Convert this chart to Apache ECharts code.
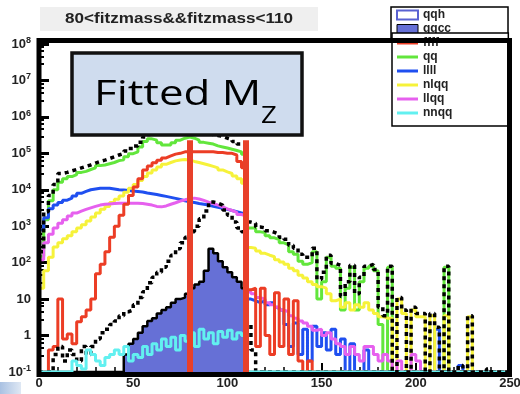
<!DOCTYPE html>
<html>
<head>
<meta charset="utf-8">
<script src="https://cdn.jsdelivr.net/npm/echarts@6/dist/echarts.min.js"></script>
<style>
  html, body { margin: 0; padding: 0; background: #fff; }
  #chart { width: 520px; height: 394px; }
</style>
</head>
<body>
<div id="chart"></div>
<script>
// histograms, bins of 2.5 from 0 to 250 (0 = empty bin)
const binWidth = 2.5;
const FLOOR = 0.1;
const cutLow = 80;
const cutHigh = 110;
const cutTop = 2.3e5;

const qq = [
  150, 1500, 5000, 1e4, 1.6e4, 2e4, 2.3e4, 2.6e4, 3e4, 3.2e4,
  3.6e4, 4e4, 4.6e4, 4.8e4, 5.2e4, 5.6e4, 6.3e4, 6.7e4, 8e4, 9.8e4,
  1.1e5, 1.5e5, 2.1e5, 2.5e5, 2.3e5, 1.95e5, 1.7e5, 1.7e5, 1.95e5, 2.3e5,
  2.6e5, 2.8e5, 2.6e5, 2.3e5, 2e5, 1.9e5, 1.8e5, 1.6e5, 1.5e5, 1.4e5,
  1.3e5, 1.2e5, 1.1e5, 9.5e4, 900, 900, 700, 670, 550, 480,
  430, 350, 310, 200, 170, 110, 90, 100, 200, 10,
  30, 140, 80, 70, 5, 20, 75, 5, 30, 70,
  80, 60, 2, 0, 75, 0, 0, 0, 0, 0,
  0, 0, 0, 0, 0, 0, 75, 0, 0, 0,
  0, 0, 0, 0, 0, 0, 0, 0, 0, 0
];
const nlqq = [
  20, 60, 140, 270, 350, 450, 550, 700, 900, 1100,
  1400, 1800, 2300, 2900, 3500, 4500, 5500, 6800, 8500, 1.1e4,
  1.4e4, 1.8e4, 2.3e4, 2.9e4, 3.5e4, 4.2e4, 5e4, 5.6e4, 6.2e4, 6.6e4,
  6.8e4, 6.5e4, 6e4, 5.6e4, 5.2e4, 4.8e4, 4.4e4, 4e4, 3.5e4, 3.1e4,
  2.8e4, 2.4e4, 2e4, 1.5e4, 260, 250, 210, 180, 160, 145,
  120, 105, 90, 70, 60, 45, 38, 30, 25, 22,
  20, 14, 9, 10, 6, 8, 5, 7, 6, 8,
  5, 4, 3.3, 3, 3, 0, 10, 4, 0, 5,
  3.3, 3.3, 0, 3.5, 0, 0, 3.5, 0, 0, 0,
  0, 3.3, 0, 0, 0, 0, 0, 0, 0, 0
];
const ffff = [
  0, 0, 0.4, 0.5, 10, 0.8, 1.1, 0.6, 2.4, 3.3,
  5, 10, 50, 90, 200, 500, 1000, 2000, 4000, 7000,
  1.2e4, 2e4, 3.5e4, 4.5e4, 5.5e4, 6.5e4, 7.5e4, 8.5e4, 9.5e4, 1e5,
  1.1e5, 1.1e5, 1.1e5, 1.1e5, 1.1e5, 1.1e5, 1.1e5, 1.05e5, 1.05e5, 1e5,
  1e5, 9e4, 6e4, 4e4, 18, 20, 0.5, 20, 1, 0.3,
  15, 0.5, 10, 0.3, 9, 0.2, 0, 0.2, 0, 0,
  0, 0, 0, 0, 0, 0, 0, 0, 0, 0,
  0, 0, 0, 0, 0, 0, 0, 0, 0, 0,
  0, 0, 0, 0, 0, 0, 0, 0, 0, 0,
  0, 0, 0, 0, 0, 0, 0, 0, 0, 0
];
const llll = [
  800, 1700, 3000, 3800, 4500, 5200, 5900, 6800, 8000, 9000,
  1e4, 1.05e4, 1.1e4, 1.1e4, 1.1e4, 1.05e4, 1e4, 9800, 9500, 9200,
  9000, 8700, 8200, 7800, 7400, 7000, 6600, 6200, 5800, 5400,
  5000, 4700, 4500, 4200, 4000, 3800, 3500, 3300, 3100, 2900,
  2700, 2500, 2300, 2100, 10, 9, 8, 9, 7, 8,
  6, 5, 2, 0.5, 2.2, 0.3, 1.5, 0.2, 1.8, 0.5,
  1.2, 0.4, 1.5, 0.3, 0.8, 0, 0.6, 0, 0, 0.4,
  0, 0, 0, 0, 0, 0, 0, 0, 0, 0,
  0, 0, 0, 0, 1.5, 0, 0, 0, 0, 0.15,
  0, 0, 0, 0, 0, 0, 0, 0, 0, 0
];
const llqq = [
  120, 350, 600, 900, 1200, 1500, 1900, 2300, 2600, 2900,
  3200, 3500, 3800, 4000, 4100, 4200, 4300, 4300, 4300, 4300,
  4300, 4200, 4000, 3800, 3500, 3400, 3600, 4000, 4400, 4900,
  5300, 5700, 5900, 5600, 5100, 4600, 4200, 3800, 3400, 3000,
  2700, 2400, 2100, 1900, 16, 14, 11, 10, 8, 7,
  6, 5, 4.5, 3.5, 3, 2.5, 2.2, 1.8, 1.4, 1.5,
  1, 1.2, 0.8, 0.6, 0.5, 0.3, 0.5, 0.3, 0.2, 0.5,
  0.5, 0.3, 0.2, 0.3, 0.2, 0, 0.2, 0, 0, 0.3,
  0.2, 0, 0, 0, 0, 0, 0, 0, 0, 0,
  0, 0, 0, 0, 0, 0, 0, 0, 0, 0
];
const nnqq = [
  0, 0, 0, 0, 0, 0, 0, 0.2, 0.15, 0.12,
  0.4, 0.3, 0.2, 0.15, 0.25, 0.3, 0.4, 0.3, 0.5, 0.2,
  0.3, 0.25, 0.5, 0.3, 0.6, 0.4, 0.8, 0.5, 0.9, 0.4,
  1.0, 0.7, 1.2, 0.5, 1.5, 0.8, 1.2, 0.6, 1.3, 0.9,
  1.4, 0.8, 1.2, 1.0, 0, 0, 0, 0, 0, 0,
  0, 0, 0, 0, 0, 0, 0, 0, 0, 0,
  0, 0, 0, 0, 0, 0, 0, 0, 0, 0,
  0, 0, 0, 0, 0, 0, 0, 0, 0, 0,
  0, 0, 0, 0, 0, 0, 0, 0, 0, 0,
  0, 0, 0, 0, 0, 0, 0, 0, 0, 0
];
const qqh = [
  0, 0, 0, 0.3, 0.5, 0.2, 0.4, 0.3, 0.2, 0.5,
  0.3, 0.5, 0.8, 1.2, 1.5, 2, 2.5, 3.5, 4.5, 5,
  7, 11, 16, 28, 40, 55, 75, 110, 160, 240,
  350, 500, 700, 1000, 1600, 2600, 4600, 4300, 3800, 2800,
  2000, 1300, 900, 700, 2, 0.4, 0, 0, 0, 0,
  0, 0, 0, 0, 0, 0, 0, 0, 0, 0,
  0, 0, 0, 0, 0, 0, 0, 0, 0, 0,
  0, 0, 0, 0, 0, 0, 0, 0, 0, 0,
  0, 0, 0, 0, 0, 0, 0, 0, 0, 0,
  0, 0, 0, 0, 0, 0, 0, 0, 0, 0
];
const qqcc = [
  0, 0, 0, 0, 0, 0, 0, 0, 0, 0,
  0, 0, 0, 0, 0, 0, 0, 0, 0.3, 0.6,
  0.8, 1.2, 1.8, 2.5, 3, 4, 5, 6, 8, 10,
  11, 14, 20, 25, 30, 60, 240, 180, 110, 75,
  55, 40, 30, 20, 0, 0, 0, 0, 0, 0,
  0, 0, 0, 0, 0, 0, 0, 0, 0, 0,
  0, 0, 0, 0, 0, 0, 0, 0, 0, 0,
  0, 0, 0, 0, 0, 0, 0, 0, 0, 0,
  0, 0, 0, 0, 0, 0, 0, 0, 0, 0,
  0, 0, 0, 0, 0, 0, 0, 0, 0, 0
];
// sum of everything, drawn dotted black (not in the legend)
const total = [
  200, 2500, 7000, 1.4e4, 2.8e4, 3e4, 3.3e4, 3.6e4, 4e4, 4.4e4,
  4.8e4, 5.4e4, 6e4, 6.5e4, 7.2e4, 8e4, 9e4, 1e5, 1.15e5, 1.35e5,
  1.6e5, 2e5, 2.8e5, 3.3e5, 3.5e5, 3.5e5, 3.4e5, 3.5e5, 3.8e5, 4.1e5,
  4.4e5, 4.5e5, 4.3e5, 4e5, 3.7e5, 3.5e5, 3.3e5, 3.1e5, 2.9e5, 2.6e5,
  2.4e5, 2.1e5, 1.8e5, 1.6e5, 1300, 1200, 950, 900, 750, 680,
  600, 500, 440, 300, 250, 170, 140, 140, 250, 35,
  55, 160, 95, 85, 12, 30, 85, 14, 40, 80,
  90, 65, 6, 3.5, 80, 0, 11, 5, 0, 6,
  4, 4, 0, 4, 1.7, 0, 80, 0, 0, 0.15,
  0, 3.5, 0, 0, 0, 0.12, 0, 0, 0, 0
];

const upperLegend = ["qqh", "qqcc"];
const lowerLegend = ["ffff", "qq", "llll", "nlqq", "llqq", "nnqq"];

const FONT = "Liberation Sans";
const colors = {
  qq: "#62e63c",
  llll: "#1f4ff0",
  nlqq: "#f6f23a",
  llqq: "#e660ee",
  nnqq: "#62f0f0",
  ffff: "#ec3d25",
  qqcc: "#6670d6",
  cut: "#e8402a"
};

const binEdges = Array.from({ length: 101 }, (_, i) => i * binWidth);

function toSteps(values) {
  const pts = values.map((v, i) => [binEdges[i], v > 0 ? v : FLOOR]);
  pts.push([binEdges[values.length], pts[pts.length - 1][1]]);
  return pts;
}

function hist(name, values, color, lineStyle, extra) {
  return Object.assign({
    name: name,
    type: "line",
    step: "end",
    data: toSteps(values),
    color: color,
    showSymbol: false,
    symbol: "none",
    silent: true,
    lineStyle: Object.assign({ color: color, width: 3, cap: "butt" }, lineStyle || {}),
    emphasis: { disabled: true }
  }, extra || {});
}

const chart = echarts.init(document.getElementById("chart"));

const legendText = {
  fontFamily: FONT, fontSize: 12, fontWeight: "bold", color: "#222", lineHeight: 14
};

chart.setOption({
  animation: false,
  backgroundColor: "#fff",
  grid: { left: 39, right: 10, top: 44, bottom: 22, outerBoundsMode: "none" },
  xAxis: {
    type: "value", min: 0, max: 250, interval: 50,
    axisLine: { show: false },
    axisTick: { inside: true, length: 9, lineStyle: { color: "#000", width: 2 } },
    minorTick: { show: true, splitNumber: 5, length: 5, lineStyle: { color: "#000", width: 1.5 } },
    splitLine: { show: false },
    axisLabel: { fontFamily: FONT, fontSize: 13, fontWeight: "bold", color: "#222", margin: 5 }
  },
  yAxis: {
    type: "log", logBase: 10, min: 0.1, max: 1e8,
    axisLine: { show: false },
    axisTick: { inside: true, length: 10, lineStyle: { color: "#000", width: 3 } },
    minorTick: { show: true, splitNumber: 5, length: 5, lineStyle: { color: "#000", width: 2 } },
    splitLine: { show: false },
    axisLabel: {
      margin: 8,
      fontFamily: FONT, fontSize: 13, fontWeight: "bold", color: "#222", lineHeight: 16,
      formatter: function (v) {
        const e = Math.round(Math.log10(v));
        if (e === 0) return "1";
        if (e === 1) return "10";
        return "10{s|" + e + "}";
      },
      rich: {
        s: { fontFamily: FONT, fontSize: 9, fontWeight: "bold", color: "#222", verticalAlign: "top", lineHeight: 16 }
      }
    }
  },
  legend: [
    {
      data: [
        { name: "qqh", icon: "rect", itemStyle: { color: "#fff", borderColor: "#5a62d2", borderWidth: 2 } },
        { name: "qqcc", icon: "rect", itemStyle: { color: colors.qqcc, borderColor: "#000", borderWidth: 1 } }
      ],
      orient: "vertical", left: 391, top: 7,
      itemWidth: 21, itemHeight: 9, itemGap: 0,
      padding: [1, 57, 2, 5],
      backgroundColor: "#fff", borderColor: "#000", borderWidth: 1.5,
      textStyle: legendText, selectedMode: false, z: 5
    },
    {
      data: lowerLegend.map(n => ({ name: n, icon: "rect" })),
      orient: "vertical", left: 392, top: 33,
      itemWidth: 21, itemHeight: 3, itemGap: 0,
      padding: [3, 56, 6, 5],
      backgroundColor: "#fff", borderColor: "#000", borderWidth: 1.5,
      textStyle: legendText, selectedMode: false, z: 6
    }
  ],
  series: [
    hist("qqcc", qqcc, colors.qqcc, { color: "#000", width: 2.5 },
      { areaStyle: { color: colors.qqcc, opacity: 1, origin: "start" } }),
    hist("qq", qq, colors.qq),
    hist("llll", llll, colors.llll),
    hist("nlqq", nlqq, colors.nlqq),
    hist("llqq", llqq, colors.llqq),
    hist("ffff", ffff, colors.ffff),
    hist("qqh", qqh, "#000", { type: [4, 4], width: 3.5 }),
    hist("nnqq", nnqq, colors.nnqq),
    hist("sum", total, "#000", { type: [4, 4], width: 3.5 }, {
      markLine: {
        silent: true,
        symbol: "none",
        label: { show: false },
        lineStyle: { color: colors.cut, width: 6, type: "solid", cap: "butt" },
        data: [
          [{ coord: [cutLow, FLOOR] }, { coord: [cutLow, cutTop] }],
          [{ coord: [cutHigh, FLOOR] }, { coord: [cutHigh, cutTop] }]
        ]
      }
    })
  ],
  graphic: [
    // title
    { type: "rect", z: 20, silent: true, shape: { x: 40, y: 7, width: 278, height: 24 }, style: { fill: "#efefef" } },
    {
      type: "text", z: 21, silent: true, x: 179, y: 19, scaleX: 1.22,
      style: {
        x: 0, y: 0, text: "80<fitzmass&&fitzmass<110",
        font: "bold 14px " + FONT, fill: "#222",
        align: "center", verticalAlign: "middle", textAlign: "center", textVerticalAlign: "middle"
      }
    },
    // frame
    {
      type: "rect", z: 90, silent: true,
      shape: { x: 39, y: 40.5, width: 470.5, height: 334 },
      style: { fill: "none", stroke: "#000", lineWidth: 5 }
    },
    // annotation box
    {
      type: "rect", z: 95, silent: true,
      shape: { x: 72, y: 53, width: 230, height: 82 },
      style: { fill: "#cfdcee", stroke: "#111", lineWidth: 3.5 }
    },
    {
      type: "text", z: 96, silent: true, x: 94, y: 95, scaleX: 1.29,
      style: {
        x: 0, y: 0, text: "Fitted M", font: "34px 'Open Sans'", fill: "#000",
        align: "left", verticalAlign: "middle", textAlign: "left", textVerticalAlign: "middle"
      }
    },
    {
      type: "text", z: 96, silent: true, x: 261, y: 116, scaleX: 1.15,
      style: {
        x: 0, y: 0, text: "Z", font: "24px 'Open Sans'", fill: "#000",
        align: "left", verticalAlign: "middle", textAlign: "left", textVerticalAlign: "middle"
      }
    },
    // slide corner
    {
      type: "rect", z: 1, silent: true,
      shape: { x: 0, y: 382, width: 21, height: 12 },
      style: {
        fill: new echarts.graphic.LinearGradient(0, 0, 1, 0, [
          { offset: 0, color: "#a9c1e2" }, { offset: 1, color: "#dfe8f4" }
        ])
      }
    }
  ]
});
</script>
</body>
</html>
